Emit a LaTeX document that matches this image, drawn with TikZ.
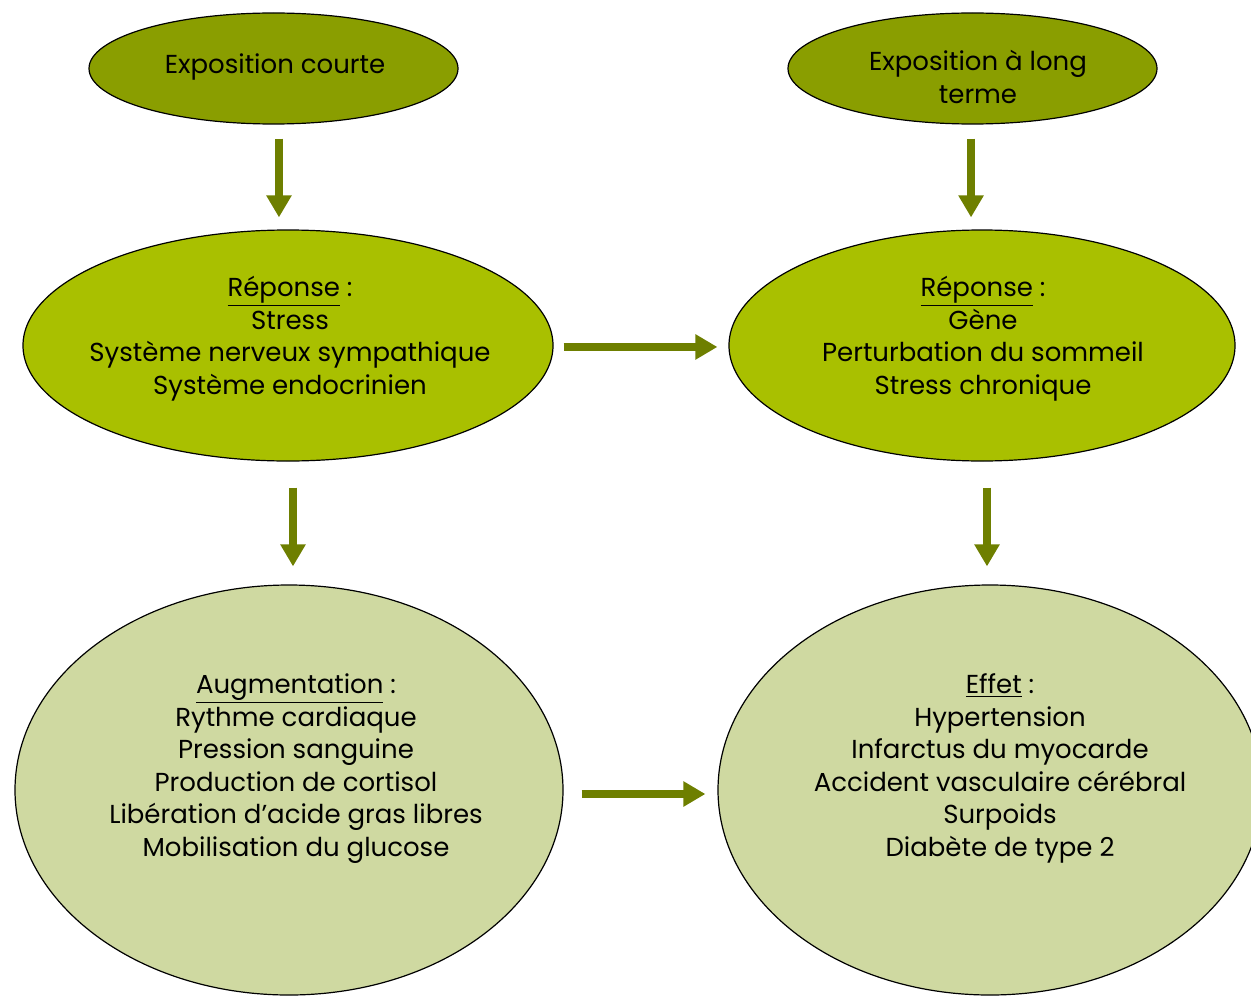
\documentclass[tikz,border=0pt]{standalone}
\usepackage{fontspec}
\setmainfont{Poppins}
\usetikzlibrary{shapes.geometric,arrows.meta}
\definecolor{expo}{RGB}{138,158,0}
\definecolor{repo}{RGB}{169,192,0}
\definecolor{effe}{RGB}{207,217,161}
\definecolor{fl}{RGB}{110,127,0}
\begin{document}
\begin{tikzpicture}[x=0.75pt,y=0.75pt,yscale=-1,xscale=1,
  bulle/.style={ellipse,draw=black,line width=0.9pt,inner sep=0pt},
  txt/.style={align=center,inner sep=0pt,font=\fontsize{19.5}{24.4}\selectfont},
  fleche/.style={draw=fl,line width=6pt,-{Triangle[width=18pt,length=16.5pt]}}]
\useasboundingbox (0,0) rectangle (1251,995);

% Ellipses
\node[bulle,fill=expo,minimum width=276.75pt,minimum height=83.25pt] (ec) at (273.5,68.5) {};
\node[bulle,fill=expo,minimum width=276.75pt,minimum height=83.25pt] (elt) at (972.5,68.5) {};
\node[bulle,fill=repo,minimum width=397.5pt,minimum height=173.25pt] (rep1) at (288,345.5) {};
\node[bulle,fill=repo,minimum width=379.5pt,minimum height=173.25pt] (rep2) at (982,345.5) {};
\node[bulle,fill=effe,minimum width=411pt,minimum height=307.5pt] (aug) at (289,790) {};
\node[bulle,fill=effe,minimum width=408pt,minimum height=307.5pt] (effet) at (990,790) {};

% Text Node
\node[txt] (ect) at (275,67) {Exposition courte};
\node[txt] (eltt) at (978,77) {Exposition à long\\terme};
\node[txt] (rep1t) at (290,338.5) {\underline{Réponse} :\\Stress\\Système nerveux sympathique\\Système endocrinien};
\node[txt] (rep2t) at (983,338.5) {\underline{Réponse} :\\Gène\\Perturbation du sommeil\\Stress chronique};
\node[txt] (augt) at (296,768.5) {\underline{Augmentation} :\\Rythme cardiaque\\Pression sanguine\\Production de cortisol\\Libération d’acide gras libres\\Mobilisation du glucose};
\node[txt] (effett) at (1000,768.5) {\underline{Effet} :\\Hypertension\\Infarctus du myocarde\\Accident vasculaire cérébral\\Surpoids\\Diabète de type 2};

% Arrows
\draw[fleche,shorten <=10.5pt,shorten >=9pt] ([xshift=4.1pt]ec.south) -- ([xshift=4.1pt]ec.south |- rep1.north);
\draw[fleche,shorten <=10.5pt,shorten >=9pt] ([xshift=-1.1pt]elt.south) -- ([xshift=-1.1pt]elt.south |- rep2.north);
\draw[fleche,shorten <=7.5pt,shorten >=8.25pt] ([yshift=1.1pt]rep1.east) -- ([yshift=1.1pt]rep1.east -| rep2.west);
\draw[fleche,shorten <=19.5pt,shorten >=13.5pt] ([xshift=3.75pt]rep1.south) -- ([xshift=3.75pt]rep1.south |- aug.north);
\draw[fleche,shorten <=19.5pt,shorten >=13.5pt] ([xshift=3.75pt]rep2.south) -- ([xshift=3.75pt]rep2.south |- effet.north);
\draw[fleche,shorten <=13.5pt,shorten >=9pt] ([yshift=3pt]aug.east) -- ([yshift=3pt]aug.east -| effet.west);

\end{tikzpicture}
\end{document}
